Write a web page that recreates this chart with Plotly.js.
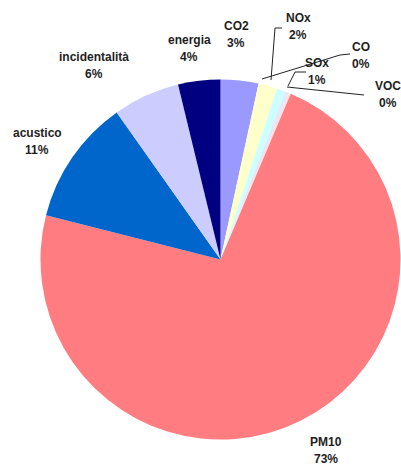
<!DOCTYPE html>
<html>
<head>
<meta charset="utf-8">
<script src="https://cdn.plot.ly/plotly-3.0.1.min.js"></script>
<style>
  html, body { margin: 0; padding: 0; background: #ffffff; }
  #chart { width: 401px; height: 465px; }
</style>
</head>
<body>
<div id="chart"></div>
<script>
// Share of external costs by impact category
const categories = ['CO2', 'NOx', 'SOx', 'CO', 'VOC', 'PM10', 'acustico', 'incidentalità', 'energia'];
const values = [3.4, 1.7, 0.8, 0.3, 0.2, 72.7, 11.3, 6.0, 3.8];
const colors = ['#9999FF', '#FFFFCC', '#CCFFFF', '#E6E6FF', '#FFE0E0', '#FF7C80', '#0066CC', '#CCCCFF', '#000080'];

// label anchor points (pixels) for each category: [x, y of name line]
const labelPos = [
  [236, 26], [298, 18], [317, 63], [361, 47], [388, 86],
  [326, 442], [37, 133], [94, 57], [189, 40]
];
// leader lines (pixel polylines) for the crowded small slices
const leaders = [
  [[282, 28], [275, 28], [271, 80]],
  [[306, 72], [295, 72], [288, 86]],
  [[350, 54], [340, 55], [262, 79]],
  [[287, 87], [364, 95]]
];

const W = 401, H = 465;
const px = x => x / W;
const py = y => 1 - y / H;

const total = values.reduce((a, b) => a + b, 0);
const pct = values.map(v => Math.round(v / total * 100) + '%');

// pie centred at (220.5, 259.5) with radius 180 px
const cx = 220.5, cy = 259.5, r = 180;

const trace = {
  type: 'pie',
  labels: categories,
  values: values,
  sort: false,
  direction: 'clockwise',
  rotation: 0,
  textinfo: 'none',
  hoverinfo: 'label+percent',
  marker: { colors: colors, line: { width: 0 } },
  domain: { x: [px(cx - r), px(cx + r)], y: [py(cy + r), py(cy - r)] },
  showlegend: false
};

const font = { family: 'Liberation Sans, Arial, sans-serif', size: 12, color: '#1e1e1e', weight: 'bold' };
const annotations = [];
categories.forEach((c, i) => {
  const [x, y] = labelPos[i];
  annotations.push({ xref: 'paper', yref: 'paper', x: px(x), y: py(y), text: c,
    showarrow: false, xanchor: 'center', yanchor: 'middle', font: font });
  annotations.push({ xref: 'paper', yref: 'paper', x: px(x), y: py(y + 17), text: pct[i],
    showarrow: false, xanchor: 'center', yanchor: 'middle', font: font });
});

const shapes = leaders.map(pts => ({
  type: 'path', xref: 'paper', yref: 'paper',
  path: pts.map((p, k) => (k ? 'L' : 'M') + px(p[0]) + ',' + py(p[1])).join(' '),
  line: { color: '#222222', width: 1 }
}));

const layout = {
  width: W, height: H,
  margin: { l: 0, r: 0, t: 0, b: 0 },
  paper_bgcolor: '#ffffff',
  annotations: annotations,
  shapes: shapes
};

Plotly.newPlot('chart', [trace], layout, { displayModeBar: false, staticPlot: true });
</script>
</body>
</html>
